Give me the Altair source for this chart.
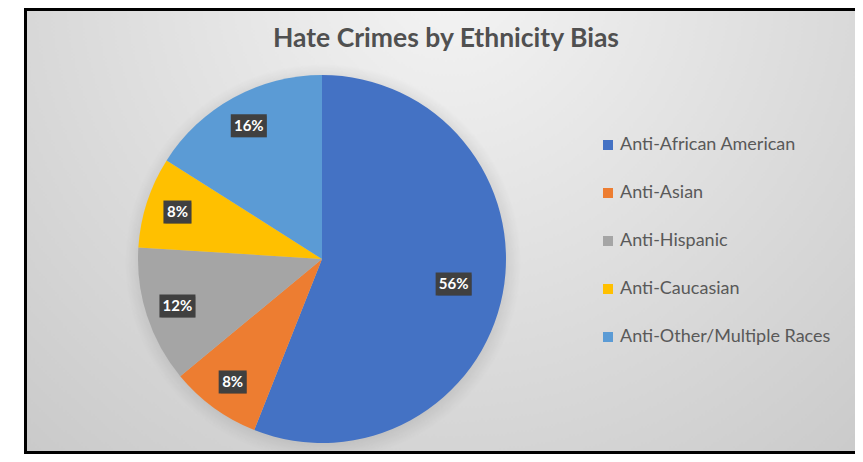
import altair as alt
import pandas as pd

title_text = "Hate Crimes by Ethnicity Bias"
categories = ["Anti-African American", "Anti-Asian", "Anti-Hispanic",
              "Anti-Caucasian", "Anti-Other/Multiple Races"]
values = [56, 8, 12, 8, 16]
labels = ["56%", "8%", "12%", "8%", "16%"]
colors = ["#4472C4", "#ED7D31", "#A5A5A5", "#FFC000", "#5B9BD5"]

W, H = 847, 446
CX, CY, R = 314, 251, 184

df = pd.DataFrame({"category": categories, "value": values,
                   "label": labels, "idx": list(range(len(categories)))})
one = pd.DataFrame({"t": [title_text]})

xs = alt.Scale(domain=[0, W], nice=False, zero=False)
ys = alt.Scale(domain=[0, H], nice=False, zero=False, reverse=True)

bg_grad = {"gradient": "radial", "x1": 0.5, "y1": 0.2, "x2": 0.5, "y2": 0.2,
           "r1": 0, "r2": 0.85,
           "stops": [{"offset": 0, "color": "#f4f4f4"},
                     {"offset": 1, "color": "#c4c4c4"}]}
bg = alt.Chart(one).mark_rect(fill=bg_grad, stroke="black", strokeWidth=3).encode(
    x=alt.value(17.5), x2=alt.value(W + 20), y=alt.value(1.5), y2=alt.value(H - 1.5))

sh_grad = {"gradient": "radial", "x1": 0.5, "y1": 0.5, "x2": 0.5, "y2": 0.5,
           "r1": 0, "r2": 0.5,
           "stops": [{"offset": 0, "color": "rgba(0,0,0,0.15)"},
                     {"offset": 0.9, "color": "rgba(0,0,0,0.10)"},
                     {"offset": 1, "color": "rgba(0,0,0,0)"}]}
shadow = alt.Chart(one).mark_arc(radius=R + 14, theta=0, theta2=6.2832, fill=sh_grad).encode(
    x=alt.value(CX + 1), y=alt.value(CY + 3))

arcs = alt.Chart(df).mark_arc(radius=R).encode(
    theta=alt.Theta("value:Q", stack=True),
    color=alt.Color("category:N",
                    scale=alt.Scale(domain=categories, range=colors),
                    legend=alt.Legend(title=None, orient="none", legendX=591, legendY=128,
                                      symbolType="square", symbolSize=100,
                                      symbolStrokeWidth=0, labelFont="Lato",
                                      labelFontSize=18, labelColor="#595959",
                                      labelLimit=400,
                                      rowPadding=30, labelOffset=3)),
    order=alt.Order("idx:Q"),
    x=alt.value(CX), y=alt.value(CY),
)

lab_base = alt.Chart(df).transform_window(
    cum="sum(value)", sort=[alt.SortField("idx")], frame=[None, 0]
).transform_joinaggregate(total="sum(value)").transform_calculate(
    mid="2*PI*(datum.cum - datum.value/2)/datum.total"
).transform_calculate(
    r="datum.value > 50 ? 134 : 152"
).transform_calculate(
    px=f"{CX} + datum.r*sin(datum.mid)",
    py=f"{CY} - datum.r*cos(datum.mid)",
    bw="length(datum.label)*8 + 12",
).transform_calculate(
    x0="datum.px - datum.bw/2", x1="datum.px + datum.bw/2",
    y0="datum.py - 11.5", y1="datum.py + 11.5",
)

box_enc = dict(x=alt.X("x0:Q", scale=xs, axis=None), x2="x1:Q",
               y=alt.Y("y0:Q", scale=ys, axis=None), y2="y1:Q")
box_shadow = lab_base.mark_rect(color="black", opacity=0.3, xOffset=2, yOffset=2).encode(**box_enc)
boxes = lab_base.mark_rect(color="#404040").encode(**box_enc)
texts = lab_base.mark_text(color="white", font="Lato", fontSize=15, fontWeight="bold",
                           baseline="middle").encode(
    x=alt.X("px:Q", scale=xs, axis=None), y=alt.Y("py:Q", scale=ys, axis=None),
    text="label:N")

title = alt.Chart(one).mark_text(font="Lato", fontSize=26.5, fontWeight="bold",
                                 color="#505050", baseline="middle").encode(
    x=alt.value(438), y=alt.value(31), text="t:N")

chart = alt.layer(bg, shadow, arcs, box_shadow, boxes, texts, title).properties(
    width=W, height=H, padding=0,
    autosize=alt.AutoSizeParams(type="none"), background="white",
).configure_view(stroke=None)

chart.save("out.html", embed_options={"renderer": "svg", "actions": False})
